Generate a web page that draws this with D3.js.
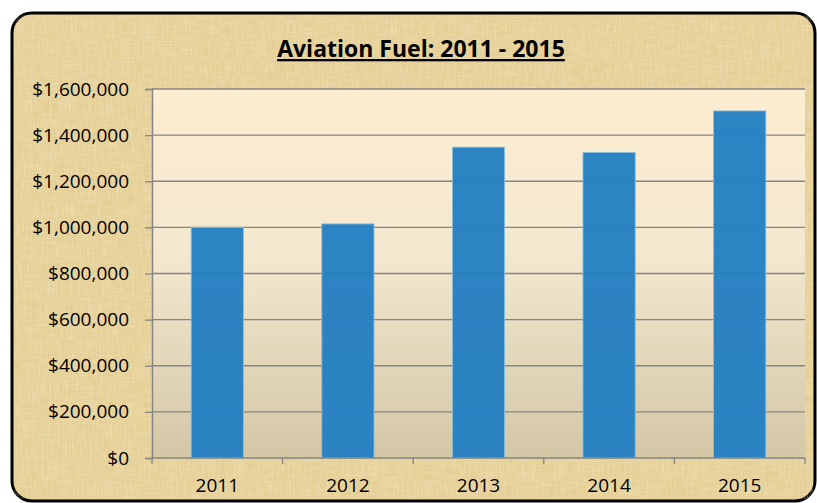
<!DOCTYPE html>
<html>
<head>
<meta charset="utf-8">
<script src="https://cdn.jsdelivr.net/npm/d3@7"></script>
<style>
  body { margin: 0; background: #fff; }
  text { font-family: "Open Sans", "Liberation Sans", sans-serif; fill: #000; }
</style>
</head>
<body>
<svg id="chart" width="817" height="503"></svg>
<script>
const years = ["2011", "2012", "2013", "2014", "2015"]
const fuelCost = [1000000, 1015000, 1348000, 1325000, 1505000]
const yTicks = [0, 200000, 400000, 600000, 800000, 1000000, 1200000, 1400000, 1600000]
const chartTitle = "Aviation Fuel: 2011 - 2015"

const svg = d3.select("#chart")
const plot = { left: 152, right: 805, top: 89, bottom: 458 }

const defs = svg.append("defs")

// parchment texture, two fibre directions
function paperFilter(id, freq, seed) {
    const f = defs.append("filter").attr("id", id)
        .attr("x", 0).attr("y", 0).attr("width", "100%").attr("height", "100%")
    f.append("feTurbulence")
        .attr("type", "fractalNoise")
        .attr("baseFrequency", freq)
        .attr("numOctaves", 3)
        .attr("seed", seed)
        .attr("result", "noise")
    f.append("feColorMatrix")
        .attr("in", "noise")
        .attr("type", "matrix")
        .attr("values", "0 0 0 0 0.99  0 0 0 0 0.93  0 0 0 0 0.76  0 0 0 -1.2 0.78")
}
paperFilter("paperH", "0.8 0.05", 4)
paperFilter("paperV", "0.05 0.8", 9)

const grad = defs.append("linearGradient").attr("id", "plotBg")
    .attr("x1", 0).attr("y1", 0).attr("x2", 0).attr("y2", 1)
grad.append("stop").attr("offset", "0%").attr("stop-color", "#fdedd1")
grad.append("stop").attr("offset", "45%").attr("stop-color", "#f3e8cf")
grad.append("stop").attr("offset", "100%").attr("stop-color", "#d3c7a6")

// outer frame
svg.append("rect")
    .attr("x", 12).attr("y", 13)
    .attr("width", 803).attr("height", 488)
    .attr("rx", 20)
    .attr("fill", "#e4cd92")
    .attr("stroke", "#000")
    .attr("stroke-width", 3)
svg.append("rect")
    .attr("x", 14).attr("y", 15)
    .attr("width", 799).attr("height", 484)
    .attr("rx", 18)
    .attr("fill", "#fff")
    .attr("filter", "url(#paperH)")
    .attr("opacity", 0.45)
svg.append("rect")
    .attr("x", 14).attr("y", 15)
    .attr("width", 799).attr("height", 484)
    .attr("rx", 18)
    .attr("fill", "#fff")
    .attr("filter", "url(#paperV)")
    .attr("opacity", 0.35)

// title
svg.append("text")
    .attr("x", 421).attr("y", 57)
    .attr("text-anchor", "middle")
    .attr("font-size", 23)
    .attr("font-weight", "bold")
    .attr("text-decoration", "underline")
    .text(chartTitle)

const x = d3.scaleBand()
    .domain(years)
    .range([plot.left, plot.right])
    .paddingInner(0.6)
    .paddingOuter(0.3)

const y = d3.scaleLinear()
    .domain([0, 1600000])
    .range([plot.bottom, plot.top])

svg.append("rect")
    .attr("x", plot.left).attr("y", plot.top)
    .attr("width", plot.right - plot.left)
    .attr("height", plot.bottom - plot.top)
    .attr("fill", "url(#plotBg)")

// gridlines
svg.append("g")
    .selectAll("line")
    .data(yTicks.slice(1))
    .enter().append("line")
    .attr("x1", plot.left).attr("x2", plot.right)
    .attr("y1", d => y(d)).attr("y2", d => y(d))
    .attr("stroke", "#858585")
    .attr("stroke-width", 1.3)

// bars
svg.append("g")
    .selectAll("rect")
    .data(fuelCost)
    .enter().append("rect")
    .attr("x", (d, i) => x(years[i]))
    .attr("y", d => y(d))
    .attr("width", x.bandwidth())
    .attr("height", d => y(0) - y(d))
    .attr("fill", "#2680c2")
    .attr("fill-opacity", 0.97)
    .attr("stroke", "#8fbfe0")
    .attr("stroke-width", 0.8)

// y axis
const fmt = d3.format("$,.0f")
const yAxis = svg.append("g")
    .attr("transform", "translate(" + plot.left + ",0)")
    .call(d3.axisLeft(y).tickValues(yTicks).tickFormat(fmt).tickSize(7).tickPadding(16))
yAxis.select(".domain").attr("stroke", "#858585").attr("stroke-width", 1.5)
yAxis.selectAll(".tick line").attr("stroke", "#858585").attr("stroke-width", 1.3)
yAxis.selectAll(".tick text").attr("font-size", 19).attr("font-family", null)
yAxis.attr("font-size", 19).attr("font-family", null)

// x axis: ticks sit on category boundaries
const xAxis = svg.append("g")
    .attr("transform", "translate(0," + plot.bottom + ")")
xAxis.append("line")
    .attr("x1", plot.left).attr("x2", plot.right)
    .attr("stroke", "#858585").attr("stroke-width", 1.5)
const step = x.step()
xAxis.selectAll(".bound")
    .data(d3.range(years.length + 1))
    .enter().append("line")
    .attr("class", "bound")
    .attr("x1", i => plot.left + i * step).attr("x2", i => plot.left + i * step)
    .attr("y1", 0).attr("y2", 6)
    .attr("stroke", "#858585").attr("stroke-width", 1.3)
xAxis.selectAll(".lbl")
    .data(years)
    .enter().append("text")
    .attr("class", "lbl")
    .attr("x", d => x(d) + x.bandwidth() / 2)
    .attr("y", 34)
    .attr("text-anchor", "middle")
    .attr("font-size", 19)
    .text(d => d)
</script>
</body>
</html>
